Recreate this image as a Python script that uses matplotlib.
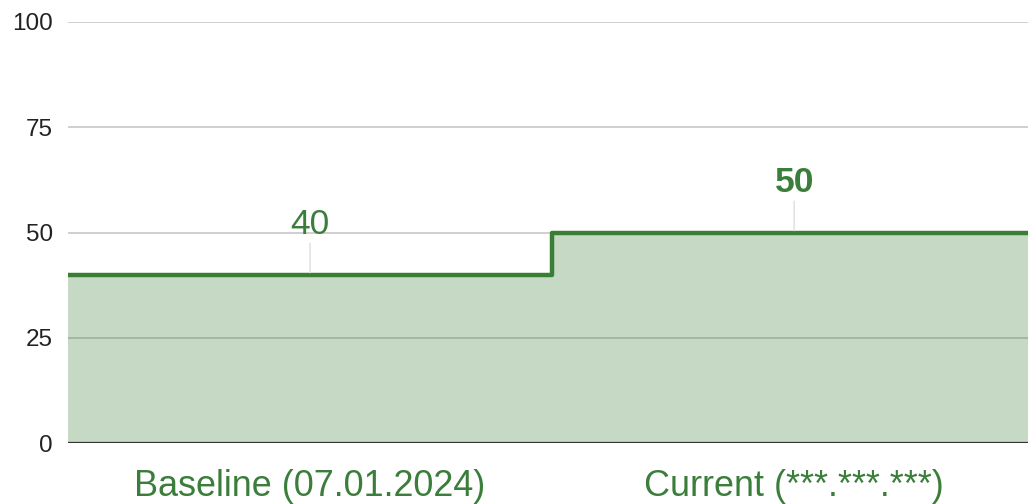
import numpy as np
import matplotlib
matplotlib.use("Agg")
import matplotlib.pyplot as plt

# data
categories = ["Baseline (07.01.2024)", "Current (***.***.***)"]
values = [40, 50]
value_labels = ["40", "50"]
label_weights = ["normal", "bold"]
yticks = [0, 25, 50, 75, 100]

GREEN = "#3a7d35"
TEXT_GREEN = "#3b7d3b"

plt.rcParams["font.family"] = ["Liberation Sans", "DejaVu Sans"]

fig = plt.figure(figsize=(10.28, 5.04), dpi=100)
ax = fig.add_axes([68 / 1028, 61 / 504, 960 / 1028, 421 / 504])

x = np.arange(len(categories))
edges = np.arange(len(values) + 1) - 0.5

# gridlines (under the fill)
for t in yticks[1:]:
    ax.axhline(t, color="#cccccc", lw=1.3, zorder=1)

# filled step area + step line
ax.stairs(values, edges, baseline=0, fill=True, color=GREEN, alpha=0.29, lw=0, zorder=2)
st = ax.stairs(values, edges, baseline=None, color=GREEN, lw=3.2, zorder=3)
st.set_joinstyle("round")
st.set_capstyle("butt")

# zero line
ax.axhline(0, color="#333333", lw=1.6, zorder=4)

# value labels with stems
for xi, v, lab, w in zip(x, values, value_labels, label_weights):
    ax.annotate(lab, xy=(xi, v), xytext=(0, 29.5), textcoords="offset points",
                ha="center", va="baseline", fontsize=25.5, fontweight=w,
                color=TEXT_GREEN, zorder=5,
                arrowprops=dict(arrowstyle="-", color="#e3e3e3", lw=1.2,
                                shrinkA=0, shrinkB=1.5))

# the last category is slightly cut off at the right edge
ax.set_xlim(edges[0], edges[-1] - 0.017)
ax.set_ylim(0, 100)
ax.set_yticks(yticks)
ax.set_yticklabels([str(t) for t in yticks], fontsize=17.5, color="#222222")
ax.set_xticks(x)
ax.set_xticklabels(categories, fontsize=25.9, color=TEXT_GREEN)
ax.tick_params(axis="y", length=0, pad=11)
ax.tick_params(axis="x", length=0, pad=18.5)
for s in ax.spines.values():
    s.set_visible(False)

fig.savefig("out.png", dpi=100)
